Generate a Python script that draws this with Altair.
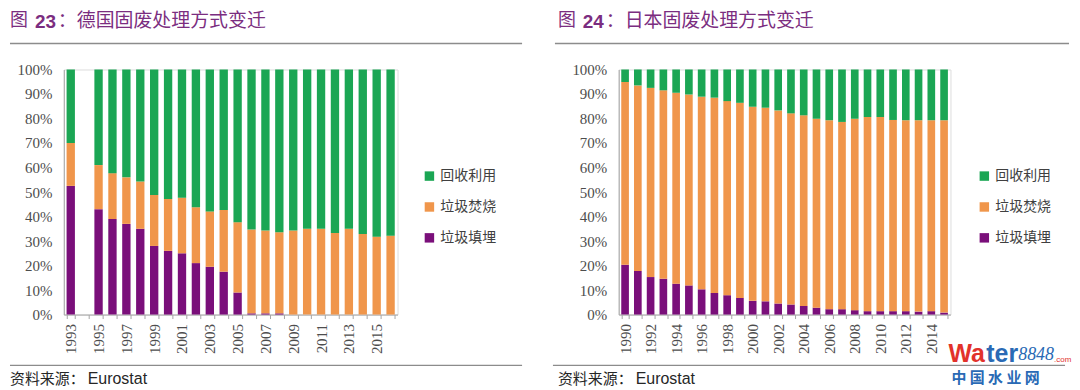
import altair as alt
import pandas as pd

# ---------------- data ----------------
types = ["回收利用", "垃圾焚烧", "垃圾填埋"]
colors = ["#1BA654", "#F0964B", "#7A0F7A"]

de_domain = list(range(1993, 2017))
de_years = [1993] + list(range(1995, 2017))
de_landfill = [52.5, 43, 39, 37, 35, 28, 26, 25, 21, 19.5, 17.5, 9,
               0.5, 0.5, 0.5, 0, 0, 0, 0, 0, 0, 0, 0]
de_incin = [17.5, 18, 18.7, 19, 19.3, 20.8, 21.2, 22.7, 22.8, 22.6, 25.2, 28.7,
            34.2, 33.8, 33.1, 34.3, 35, 35, 33.3, 35, 32.9, 31.8, 32.2]
de_recycle = [30, 39, 42.3, 44, 45.7, 51.2, 52.8, 52.3, 56.2, 57.9, 57.3, 62.3,
              65.3, 65.7, 66.4, 65.7, 65, 65, 66.7, 65, 67.1, 68.2, 67.8]

jp_domain = list(range(1990, 2016))
jp_years = list(range(1990, 2016))
jp_landfill = [20.3, 17.8, 15.3, 14.6, 12.6, 11.9, 10.3, 8.8, 7.9, 6.8, 5.6, 5.4, 4.5,
               4.1, 3.5, 2.8, 2.2, 2.2, 1.8, 1.4, 1.4, 1.4, 1.4, 1.2, 1.4, 0.8]
jp_incin = [74.6, 75.7, 77.2, 76.9, 77.9, 77.9, 78.6, 79.7, 79.2, 79.6, 79.2, 79.0, 78.8,
            78.0, 77.8, 77.1, 77.1, 76.4, 78.1, 79.2, 79.2, 78.0, 77.9, 78.1, 77.9, 78.5]
jp_recycle = [5.1, 6.5, 7.5, 8.5, 9.5, 10.2, 11.1, 11.5, 12.9, 13.6, 15.2, 15.6, 16.7,
              17.9, 18.7, 20.1, 20.7, 21.4, 20.1, 19.4, 19.4, 20.6, 20.7, 20.7, 20.7, 20.7]

TITLE_COLOR = "#7B2D80"
LINE_COLOR = "#8C8C8C"
AXIS_COLOR = "#A6A6A6"
LABEL_COLOR = "#4D4D4D"


def long_df(years, land, inc, rec):
    rows = []
    for i, y in enumerate(years):
        rows.append({"year": y, "type": types[2], "value": land[i], "ord": 0})
        rows.append({"year": y, "type": types[1], "value": inc[i], "ord": 1})
        rows.append({"year": y, "type": types[0], "value": rec[i], "ord": 2})
    return pd.DataFrame(rows)


def text_layer(txt, x, y, size, color, font, weight="normal", style="normal",
               baseline="middle"):
    return alt.Chart(pd.DataFrame({"t": [txt]})).mark_text(
        align="left", baseline=baseline, fontSize=size, color=color, font=font,
        fontWeight=weight, fontStyle=style
    ).encode(text="t:N", x=alt.value(x), y=alt.value(y))


def rule_layer(x1, x2, y):
    return alt.Chart(pd.DataFrame({"a": [0]})).mark_rule(
        color=LINE_COLOR, strokeWidth=1.5
    ).encode(x=alt.value(x1), x2=alt.value(x2), y=alt.value(y))


def panel(domain, years, land, inc, rec, width, odd_labels, num, rest,
          tx, top_rule, bottom_rule, legend_x, extra=None):
    df = long_df(years, land, inc, rec)
    parity = "1" if odd_labels else "0"
    bars = alt.Chart(df).mark_bar().encode(
        x=alt.X("year:O",
                scale=alt.Scale(domain=domain, paddingInner=0.4, paddingOuter=0.2),
                axis=alt.Axis(title=None, labelAngle=270,
                              labelExpr=f"datum.value % 2 == {parity} ? datum.label : ''",
                              labelFont="Liberation Serif", labelFontSize=15,
                              labelColor=LABEL_COLOR, labelPadding=5,
                              domainColor=AXIS_COLOR, tickColor=AXIS_COLOR,
                              tickSize=4, tickBand="extent")),
        y=alt.Y("value:Q", stack="zero",
                scale=alt.Scale(domain=[0, 100], nice=False),
                axis=alt.Axis(title=None, values=list(range(0, 101, 10)),
                              labelExpr="datum.value + '%'", ticks=False, grid=False,
                              labelFont="Liberation Serif", labelFontSize=15,
                              labelColor=LABEL_COLOR, labelPadding=12,
                              domainColor=AXIS_COLOR)),
        color=alt.Color("type:N",
                        scale=alt.Scale(domain=types, range=colors),
                        legend=alt.Legend(orient="none", legendX=legend_x, legendY=100,
                                          title=None, symbolType="square",
                                          symbolSize=90, symbolStrokeWidth=0,
                                          labelFont="Noto Sans CJK SC",
                                          labelFontSize=14, labelColor="#404040",
                                          rowPadding=17, labelOffset=4)),
        order=alt.Order("ord:Q"),
    )
    layers = [bars,
              text_layer("图", tx, -58, 18, TITLE_COLOR, "Noto Sans CJK SC", baseline="top"),
              text_layer(num, tx + 25, -57, 19, TITLE_COLOR, "Liberation Sans",
                         weight="bold", baseline="top"),
              text_layer("：" + rest, tx + 48, -58, 19, TITLE_COLOR, "Noto Sans CJK SC",
                         baseline="top"),
              rule_layer(top_rule[0], top_rule[1], -26),
              rule_layer(bottom_rule[0], bottom_rule[1], 297),
              text_layer("资料来源：", tx, 311, 15, "#262626", "Noto Sans CJK SC"),
              text_layer("Eurostat", tx + 78, 311, 16, "#262626", "Liberation Sans")]
    if extra:
        layers += extra
    return alt.layer(*layers).properties(width=width, height=246)


left = panel(de_domain, de_years, de_landfill, de_incin, de_recycle, 335, True,
             "23", "德国固废处理方式变迁", -54, (-54, 460), (-54, 460), 360)

watermark = [
    text_layer("Wa", 331, 286, 25, "#E2322B", "Liberation Sans", weight="bold"),
    text_layer("ter", 369, 286, 25, "#2A6AB5", "Liberation Sans", weight="bold"),
    text_layer("8848", 401, 287, 18, "#2A6AB5", "Liberation Serif", style="italic"),
    text_layer(".com", 437, 292, 8, "#E2322B", "Liberation Sans"),
    text_layer("中   国   水   业   网", 334, 310, 15, "#2A6AB5", "Noto Sans CJK SC", weight="bold"),
]

right = panel(jp_domain, jp_years, jp_landfill, jp_incin, jp_recycle, 333, False,
              "24", "日本固废处理方式变迁", -61, (-64, 452), (-66, 448), 360, watermark)

chart = alt.hconcat(left, right, spacing=222, bounds="flush").resolve_scale(
    color="independent"
).resolve_legend(color="independent").configure_view(stroke=None).configure(
    background="white"
).properties(padding={"left": 0, "top": 2, "right": 0, "bottom": 0})

chart.save("out.html", embed_options={"renderer": "svg", "actions": False})
